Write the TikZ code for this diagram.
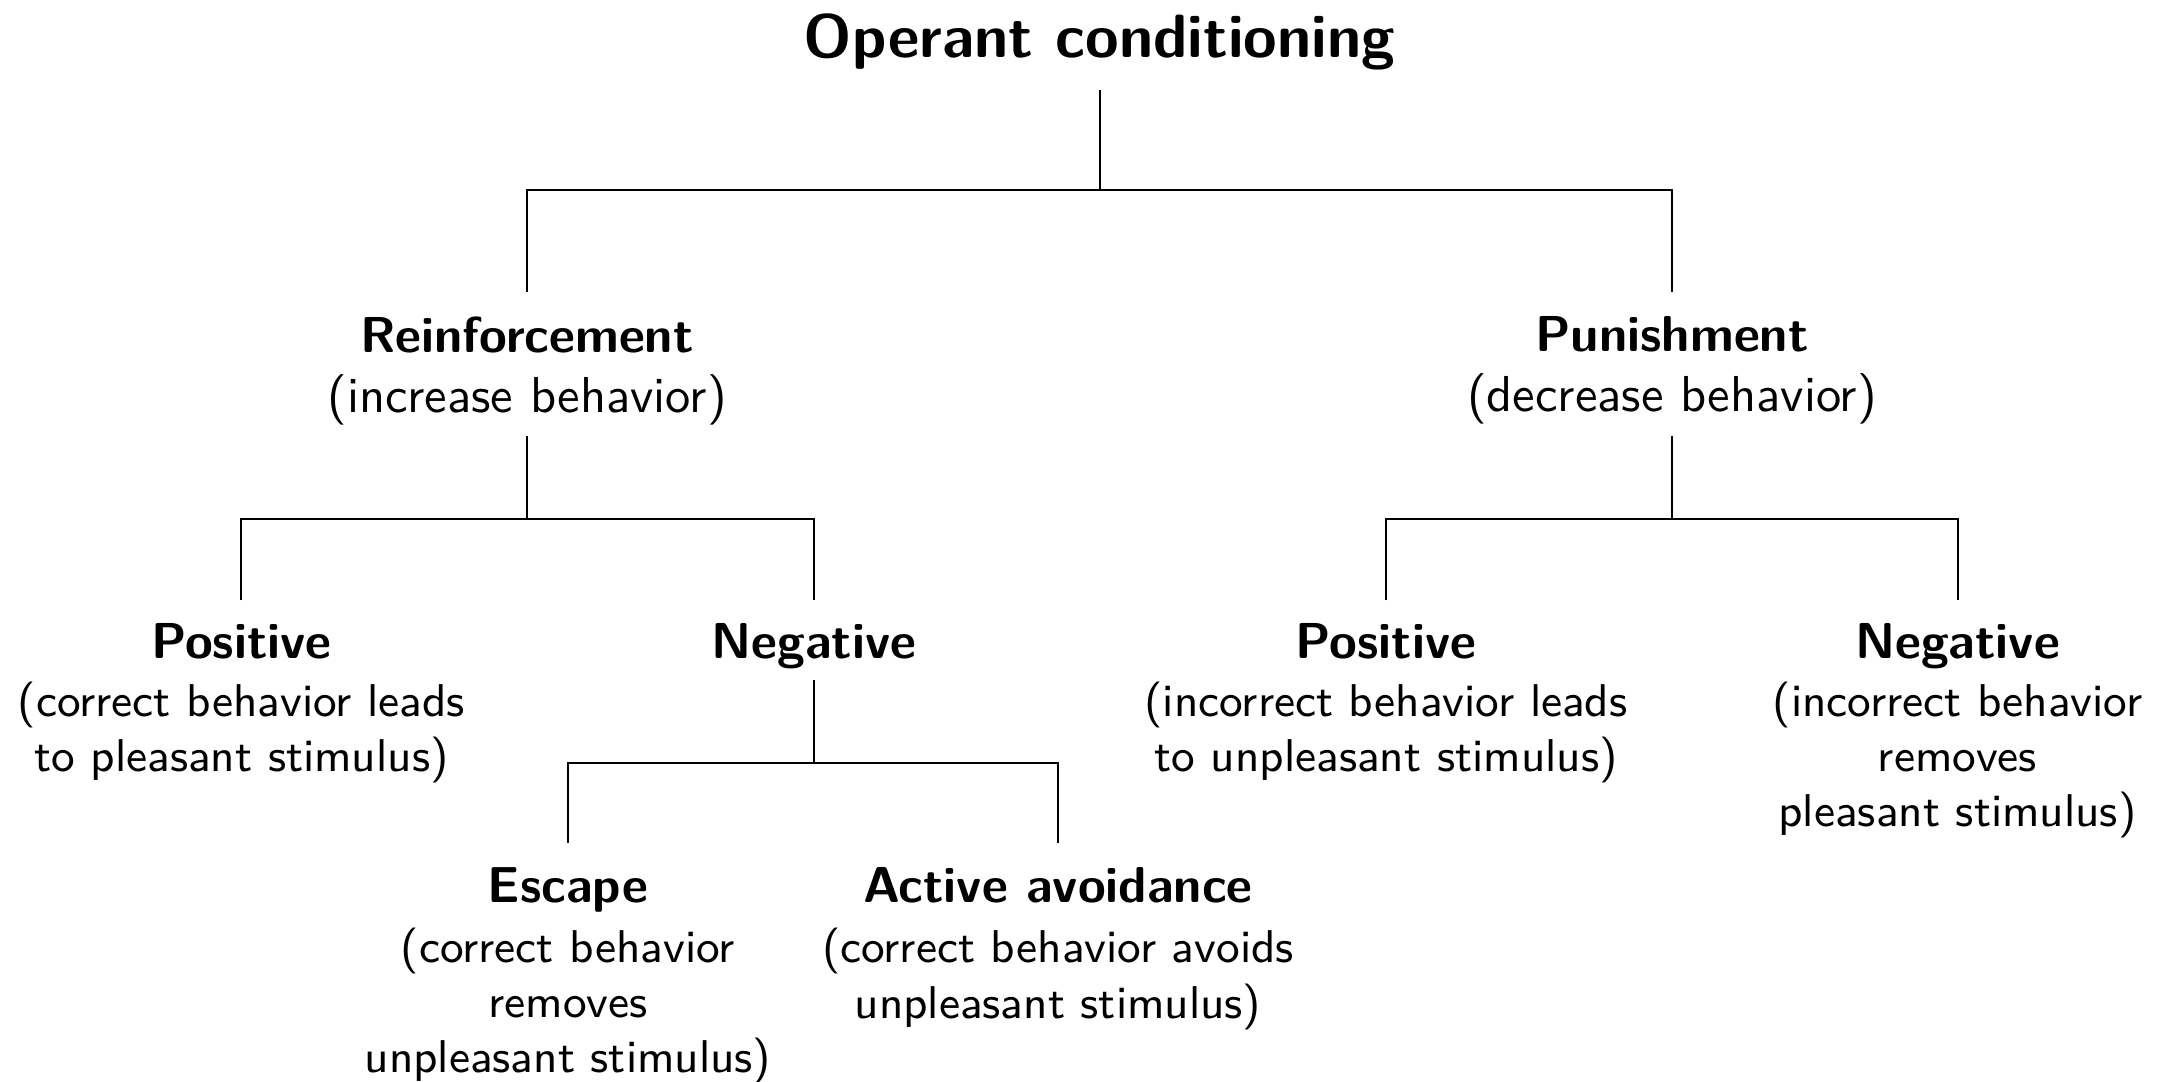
\documentclass[tikz,border=0pt]{standalone}
\renewcommand{\familydefault}{\sfdefault}
\begin{document}
\begin{tikzpicture}[
  x=0.198pt, y=-0.198pt,
  every node/.style={align=center, inner sep=3.33pt,
    font=\fontsize{10}{10.9}\selectfont},
  cat/.style={anchor=north},
  subcat/.style={anchor=north, font=\fontsize{9.1}{10.9}\selectfont},
  rootbox/.style={anchor=north, font=\fontsize{12.1}{14}\selectfont\bfseries},
  link/.style={draw=black, line width=0.4pt},
  stem/.style={link, shorten <=0.5pt},
  down/.style={link, shorten <=-1.3pt},
  fork/.style={link, shorten <=1.4pt, shorten >=1.4pt}
]
\useasboundingbox (0,0) rectangle (2163,1082);

% categories
\node[rootbox] (root) at (1099.5,-4.5) {Operant conditioning};
\node[cat] (reinf) at (527,299) {\textbf{Reinforcement}\\[1pt](increase behavior)};
\node[cat] (pun) at (1672,299) {\textbf{Punishment}\\[1pt](decrease behavior)};
\node[subcat] (posr) at (241.4,605.5) {\fontsize{10}{10.9}\selectfont\textbf{Positive}\\[0.6pt](correct behavior leads\\to pleasant stimulus)};
\node[subcat] (negr) at (814,605.5) {\fontsize{10}{10.9}\selectfont\textbf{Negative}};
\node[subcat] (posp) at (1386,605.5) {\fontsize{10}{10.9}\selectfont\textbf{Positive}\\[0.6pt](incorrect behavior leads\\to unpleasant stimulus)};
\node[subcat] (negp) at (1957.5,605.5) {\fontsize{10}{10.9}\selectfont\textbf{Negative}\\[0.6pt](incorrect behavior\\removes\\pleasant stimulus)};
\node[subcat] (esc) at (568,850) {\fontsize{10}{10.9}\selectfont\textbf{Escape}\\[1pt](correct behavior\\removes\\unpleasant stimulus)};
\node[subcat] (avoid) at (1058,850) {\fontsize{10}{10.9}\selectfont\textbf{Active avoidance}\\[1pt](correct behavior avoids\\unpleasant stimulus)};

% branching points
\coordinate (j0) at (1099.5,190);
\coordinate (j1) at (527,518.7);
\coordinate (j2) at (1672,518.7);
\coordinate (j3) at (814,763);

% connectors
\draw[stem] (root.south) -- (j0);
\draw[fork] (reinf.north) |- (j0) -| (pun.north);
\draw[down] (reinf.south) -- (j1);
\draw[fork, shorten <=1pt, shorten >=1pt] (posr.north) |- (j1) -| (negr.north);
\draw[down] (pun.south) -- (j2);
\draw[fork, shorten <=1pt, shorten >=1pt] (posp.north) |- (j2) -| (negp.north);
\draw[down] (negr.south) -- (j3);
\draw[fork] (esc.north) |- (j3) -| (avoid.north);
\end{tikzpicture}
\end{document}
